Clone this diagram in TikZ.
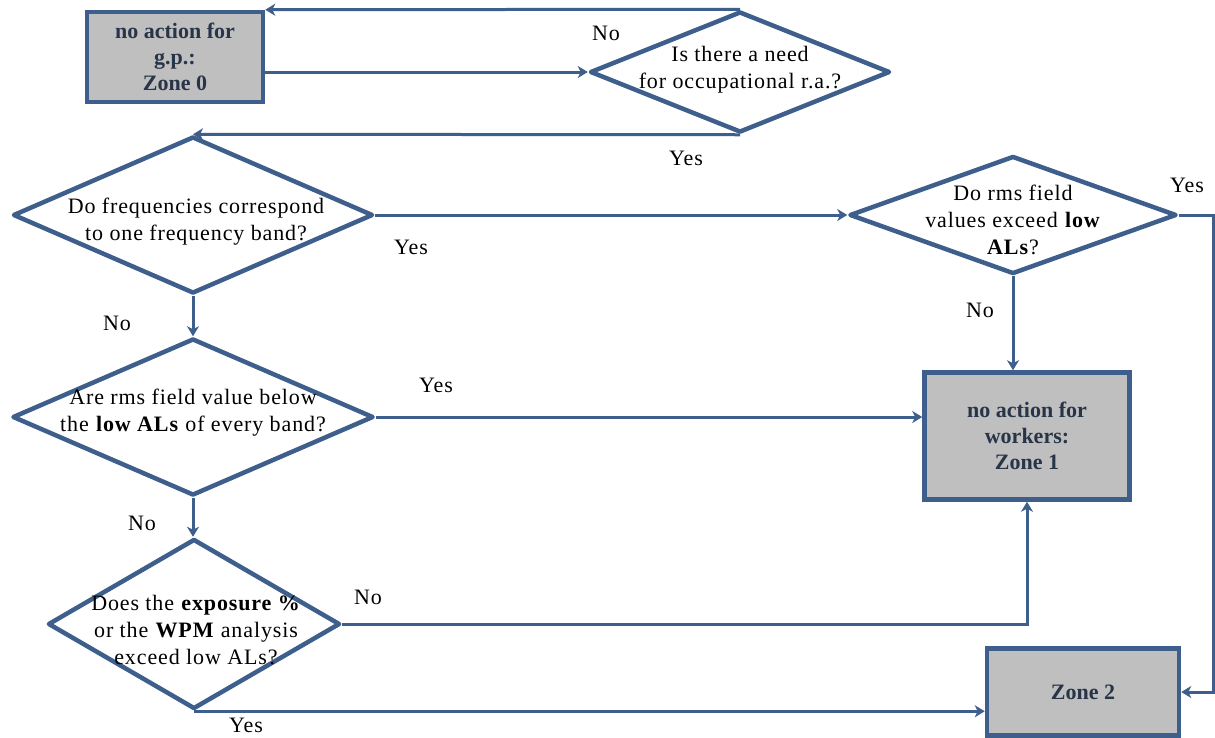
\documentclass[tikz,border=0pt]{standalone}
\usepackage{fontspec}
\setmainfont{Liberation Serif}
\usetikzlibrary{shapes.geometric,arrows.meta}
\definecolor{lineblue}{RGB}{62,94,140}
\definecolor{boxgray}{RGB}{191,191,191}
\definecolor{boxtext}{RGB}{40,52,72}
\begin{document}
\begin{tikzpicture}[x=1pt,y=-1pt,
  dec/.style={draw=lineblue,line width=4.5pt,shape=diamond,inner sep=0pt,line join=round},
  zone/.style={draw=lineblue,line width=4.5pt,fill=boxgray,inner sep=0pt,
    font=\fontsize{22}{26}\selectfont\bfseries,text=boxtext,align=center},
  q/.style={font=\fontsize{22}{27}\selectfont\addfontfeatures{LetterSpace=4},align=center,inner sep=0pt},
  lab/.style={font=\fontsize{22}{27}\selectfont\addfontfeatures{LetterSpace=4},inner sep=0pt},
  conn/.style={draw=lineblue,line width=3pt,-{Stealth[length=10pt,width=12pt,inset=3pt]}},
]
\useasboundingbox (0,0) rectangle (1215,737);

% nodes
\node[zone,minimum width=176pt,minimum height=90pt] (z0) at (175,57) {no action for\\g.p.:\\Zone 0};
\node[dec,minimum width=300pt,minimum height=121pt] (d0) at (740,72) {};
\node[q] (d0t) at (740,70) {Is there a need\\for occupational r.a.?};
\node[dec,minimum width=360pt,minimum height=157pt] (d1) at (193,215) {};
\node[q] (d1t) at (196,222) {Do frequencies correspond\\to one frequency band?};
\node[dec,minimum width=327pt,minimum height=118pt] (d2) at (1013,215) {};
\node[q] (d2t) at (1013,220) {Do rms field\\values exceed \textbf{low}\\\textbf{ALs}?};
\node[dec,minimum width=361pt,minimum height=157pt] (d3) at (193,417) {};
\node[q] (d3t) at (193,413) {Are rms field value below\\the \textbf{low ALs} of every band?};
\node[zone,minimum width=205pt,minimum height=127pt] (z1) at (1027,436) {no action for\\workers:\\Zone 1};
\node[dec,minimum width=292pt,minimum height=170pt] (d4) at (194,624) {};
\node[q] (d4t) at (196,630) {Does the \textbf{exposure \%}\\or the \textbf{WPM} analysis\\exceed low ALs?};
\node[zone,minimum width=192pt,minimum height=87pt] (z2) at (1083,692) {Zone 2};
\coordinate (rc) at (1213,0);

% connectors
\draw[conn] (d0.north) -- (z0.north east);
\draw[conn] (z0.east |- d0.west) -- (d0.west);
\draw[conn] (d0.south) -- (d1.north);
\draw[conn] (d1.east) -- (d2.west);
\draw[conn] (d1.south) -- (d3.north);
\draw[conn] (d2.south) -- (d2.south |- z1.north);
\draw[conn] (d2.east) -- (d2.east -| rc) |- (z2.east);
\draw[conn] (d3.east) -- (d3.east -| z1.west);
\draw[conn] (d3.south) -- (d3.south |- d4.north);
\draw[conn] (d4.east) -| (z1.south);
\draw[conn] (d4.south) -- (d4.south -| z2.west);

% labels
\node[lab] (l1) at (606,33) {No};
\node[lab] (l2) at (686,158) {Yes};
\node[lab] (l3) at (411,247) {Yes};
\node[lab] (l4) at (117,323) {No};
\node[lab] (l5) at (1187,185) {Yes};
\node[lab] (l6) at (980,310) {No};
\node[lab] (l7) at (436,385) {Yes};
\node[lab] (l8) at (142,523) {No};
\node[lab] (l9) at (368,597) {No};
\node[lab] (l10) at (246,725) {Yes};
\end{tikzpicture}
\end{document}
